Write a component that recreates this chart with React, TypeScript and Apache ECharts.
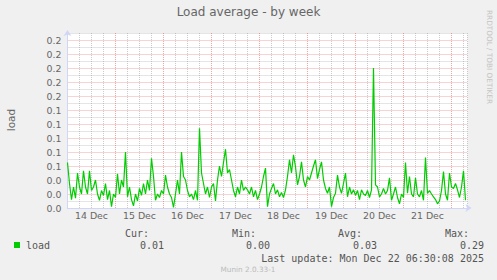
import React, { useEffect, useRef } from "react";
import * as echarts from "echarts";

const TITLE = "Load average - by week";
const Y_NAME = "load";
const SERIES_NAME = "load";
const DAY_LABELS = ["14 Dec", "15 Dec", "16 Dec", "17 Dec", "18 Dec", "19 Dec", "20 Dec", "21 Dec"];
// hourly load values, hour 0 = 14 Dec 00:00
const LOAD = [
  0.065, 0.035, 0.012, 0.03, 0.014, 0.05, 0.03, 0.02, 0.053, 0.03,
  0.02, 0.053, 0.025, 0.03, 0.04, 0.02, 0.011, 0.025, 0.018, 0.035,
  0.012, 0.025, 0.002, 0.02, 0.015, 0.049, 0.02, 0.04, 0.03, 0.08,
  0.016, 0.03, 0.012, 0.003, 0.02, 0.01, 0.028, 0.018, 0.035, 0.02,
  0.04, 0.025, 0.071, 0.045, 0.011, 0.02, 0.015, 0.025, 0.02, 0.047,
  0.03, 0.02, 0.015, 0.001, 0.02, 0.04, 0.02, 0.08, 0.045, 0.04,
  0.025, 0.016, 0.02, 0.012, 0.025, 0.011, 0.114, 0.05, 0.035, 0.02,
  0.03, 0.015, 0.03, 0.035, 0.01, 0.04, 0.06, 0.045, 0.065, 0.084,
  0.05, 0.055, 0.04, 0.025, 0.016, 0.03, 0.02, 0.04, 0.025, 0.03,
  0.026, 0.02, 0.03, 0.016, 0.025, 0.012, 0.02, 0.03, 0.045, 0.057,
  0.002, 0.02, 0.028, 0.035, 0.02, 0.026, 0.016, 0.022, 0.015, 0.026,
  0.045, 0.069, 0.05, 0.076, 0.059, 0.033, 0.045, 0.066, 0.04, 0.03,
  0.045, 0.04, 0.05, 0.06, 0.069, 0.042, 0.055, 0.066, 0.04, 0.028,
  0.021, 0.03, 0.002, 0.015, 0.021, 0.047, 0.03, 0.021, 0.035, 0.05,
  0.016, 0.03, 0.02, 0.026, 0.018, 0.025, 0.012, 0.026, 0.02, 0.018,
  0.025, 0.015, 0.026, 0.2, 0.033, 0.03, 0.016, 0.02, 0.028, 0.02,
  0.025, 0.043, 0.011, 0.02, 0.03, 0.015, 0.006, 0.02, 0.015, 0.065,
  0.021, 0.045, 0.02, 0.016, 0.043, 0.02, 0.016, 0.025, 0.011, 0.072,
  0.021, 0.025, 0.02, 0.016, 0.012, 0.006, 0.01, 0.025, 0.052, 0.02,
  0.011, 0.05, 0.03, 0.028, 0.035, 0.026, 0.015, 0.03, 0.053, 0.011,
];
const STAT_LABELS = ["Cur:", "Min:", "Avg:", "Max:"];
const STAT_VALUES = ["0.01", "0.00", "0.03", "0.29"];
const LAST_UPDATE = "Last update: Mon Dec 22 06:30:08 2025";
const VERSION = "Munin 2.0.33-1";
const VENDOR = "RRDTOOL / TOBI OETIKER";

const FONT = "DejaVu Sans";
const MONO = "DejaVu Sans Mono";
const TXT = "#666666";
const RED = "rgba(224,80,80,0.5)";
const GRAY = "rgba(140,140,140,0.45)";
const AXIS = "#CFD6F8";
const GREEN = "#00CC00";

export default function App() {
  const ref = useRef<HTMLDivElement>(null);
  useEffect(() => {
    if (!ref.current) return;
    const chart = echarts.init(ref.current, undefined, { renderer: "svg" });
    const statRight = [149, 256, 362, 469];
    const valRight = [164, 270, 377, 484];
    const graphics: any[] = [
      { type: "text", left: "center", top: 6, style: { text: TITLE, fontFamily: FONT, fontSize: 12, fill: TXT } },
      { type: "text", x: 10.5, y: 120, rotation: Math.PI / 2, style: { text: Y_NAME, fontFamily: FONT, fontSize: 10.5, fill: TXT, textAlign: "center", textVerticalAlign: "middle" } },
      { type: "text", x: 489, y: 57, rotation: -Math.PI / 2, style: { text: VENDOR, fontFamily: FONT, fontSize: 7.3, fill: "#C4C4C4", textAlign: "center", textVerticalAlign: "middle" } },
      { type: "rect", shape: { x: 14, y: 242, width: 6, height: 6 }, style: { fill: GREEN } },
      { type: "text", x: 26, y: 245, style: { text: SERIES_NAME, fontFamily: MONO, fontSize: 10, fill: "#555", textVerticalAlign: "middle" } },
      { type: "text", x: 484, y: 258, style: { text: LAST_UPDATE, fontFamily: MONO, fontSize: 10, fill: "#555", textAlign: "right", textVerticalAlign: "middle" } },
      { type: "text", x: 248, y: 269.5, style: { text: VERSION, fontFamily: FONT, fontSize: 7.3, fill: "#BBBBBB", textAlign: "center", textVerticalAlign: "middle" } },
    ];
    STAT_LABELS.forEach((s, k) => {
      graphics.push({ type: "text", x: statRight[k], y: 233, style: { text: s, fontFamily: MONO, fontSize: 10, fill: "#555", textAlign: "right", textVerticalAlign: "middle" } });
      graphics.push({ type: "text", x: valRight[k], y: 245, style: { text: STAT_VALUES[k], fontFamily: MONO, fontSize: 10, fill: "#555", textAlign: "right", textVerticalAlign: "middle" } });
    });

    chart.setOption({
      animation: false,
      backgroundColor: "#F0F0F0",
      grid: { left: 67.5, top: 33, width: 400, height: 175, show: true, backgroundColor: "#FFFFFF", borderWidth: 0, containLabel: false },
      xAxis: [
        {
          type: "value", min: 0, max: 200, interval: 6, position: "bottom",
          axisLine: { show: true, lineStyle: { color: AXIS, width: 1 }, symbol: ["none", "arrow"], symbolSize: [6, 6], symbolOffset: [0, 4] },
          axisTick: { show: false },
          axisLabel: { show: false },
          splitLine: { show: true, lineStyle: { color: [RED, GRAY, GRAY, GRAY], type: [1, 1], width: 1 } },
        },
        {
          type: "value", min: 0, max: 200, interval: 12, position: "bottom", offset: 0,
          axisLine: { show: false }, axisTick: { show: false }, splitLine: { show: false },
          axisLabel: {
            show: true, margin: 3, color: TXT, fontFamily: FONT, fontSize: 9.4,
            showMinLabel: true, showMaxLabel: false,
            formatter: (v: number) => (Math.round(v) % 24 === 12 ? DAY_LABELS[(Math.round(v) - 12) / 24] || "" : ""),
          },
        },
      ],
      yAxis: {
        type: "value", min: 0, max: 0.25, interval: 0.01,
        axisLine: { show: true, lineStyle: { color: AXIS, width: 1 }, symbol: ["none", "arrow"], symbolSize: [6, 6], symbolOffset: [0, 3] },
        axisTick: { show: false },
        axisLabel: {
          margin: 6, color: TXT, fontFamily: FONT, fontSize: 9.4,
          formatter: (v: number) => (Math.round(v * 100) % 2 === 0 ? v.toFixed(1) : ""),
        },
        splitLine: { show: true, lineStyle: { color: [RED, GRAY], type: [1, 1], width: 1 } },
      },
      series: [
        {
          type: "line", name: SERIES_NAME, xAxisIndex: 0,
          data: LOAD.map((v, i) => [i, v]),
          showSymbol: false, symbol: "none",
          lineStyle: { color: GREEN, width: 1.2 },
          z: 5,
        },
      ],
      graphic: graphics,
    });
    return () => chart.dispose();
  }, []);
  return <div ref={ref} style={{ position: "fixed", left: 0, top: 0, width: 497, height: 280 }} />;
}
